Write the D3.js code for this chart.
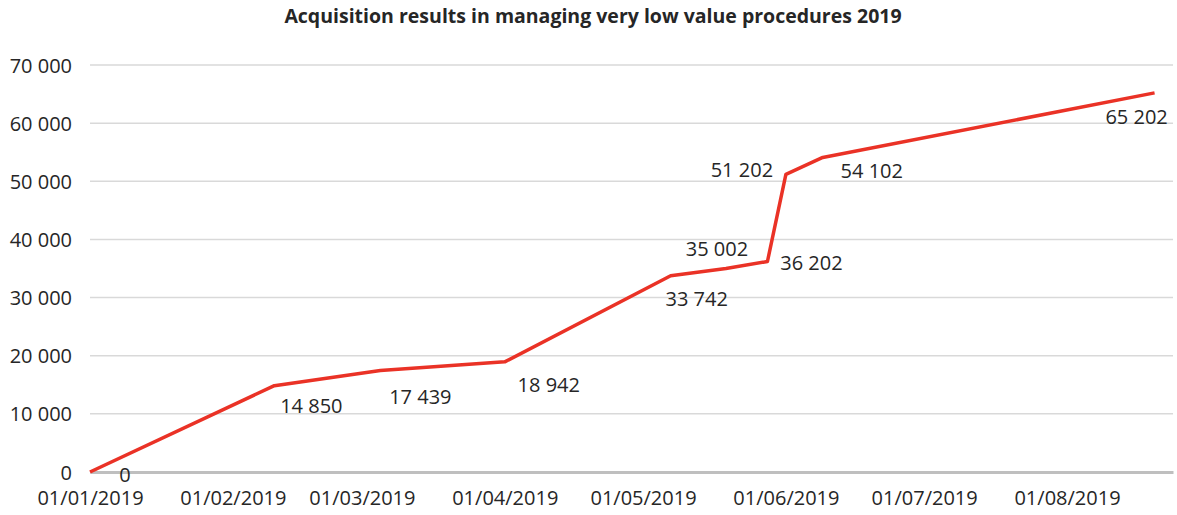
<!DOCTYPE html>
<html>
<head>
<meta charset="utf-8">
<script src="https://cdn.jsdelivr.net/npm/d3@7"></script>
<style>
  body { margin: 0; background: #fff; }
  text { font-family: "Open Sans", "Noto Sans", sans-serif; fill: #262626; }
</style>
</head>
<body>
<div id="chart"></div>
<script>
// data
const dates = ['2019-01-01', '2019-02-10', '2019-03-05', '2019-04-01', '2019-05-07',
  '2019-05-19', '2019-05-28', '2019-06-01', '2019-06-09', '2019-08-20'];
const values = [0, 14850, 17439, 18942, 33742, 35002, 36202, 51202, 54102, 65202];
const yTicks = [0, 10000, 20000, 30000, 40000, 50000, 60000, 70000];
const xTicks = ['2019-01-01', '2019-02-01', '2019-03-01', '2019-04-01',
  '2019-05-01', '2019-06-01', '2019-07-01', '2019-08-01'];

const parse = d3.timeParse('%Y-%m-%d');
const data = dates.map((d, i) => ({ date: parse(d), value: values[i] }));

// label nudges (px) relative to each point, as placed in the original
const labelOffset = [[35, 3], [37, 20], [40, 26], [44, 23], [26, 23],
  [-9, -19], [44, 1], [-44, -4], [49, 14], [-18, 24]];

const width = 1177;
const height = 515;
const margin = { top: 65, right: 4, bottom: 43, left: 90 };

const svg = d3.select('#chart')
  .append('svg')
  .attr('width', width)
  .attr('height', height);

const x = d3.scaleTime()
  .domain([parse('2019-01-01'), parse('2019-08-24')])
  .range([margin.left, width - margin.right]);

const y = d3.scaleLinear()
  .domain([0, 70000])
  .range([height - margin.bottom, margin.top]);

const fmt = v => d3.format(',')(v).replace(/,/g, ' ');

svg.append('text')
  .attr('x', 593)
  .attr('y', 23)
  .attr('text-anchor', 'middle')
  .attr('font-size', '19.5px')
  .attr('font-weight', 'bold')
  .text('Acquisition results in managing very low value procedures 2019');

// gridlines
svg.append('g')
  .selectAll('line')
  .data(yTicks.filter(t => t > 0))
  .join('line')
    .attr('x1', margin.left)
    .attr('x2', width - margin.right)
    .attr('y1', d => y(d))
    .attr('y2', d => y(d))
    .attr('stroke', '#d9d9d9')
    .attr('stroke-width', 1.5);

// y axis labels
const yAxis = svg.append('g')
  .attr('transform', `translate(${margin.left - 15},0)`)
  .call(d3.axisLeft(y).tickValues(yTicks).tickFormat(fmt).tickSize(0));
yAxis.select('.domain').remove();
yAxis.selectAll('text').attr('font-size', '20px').attr('dy', '0.35em');

// x axis
const xAxis = svg.append('g')
  .attr('transform', `translate(0,${y(0)})`)
  .call(d3.axisBottom(x).tickValues(xTicks.map(parse))
    .tickFormat(d3.timeFormat('%d/%m/%Y')).tickSize(0));
xAxis.select('.domain').attr('stroke', '#bfbfbf').attr('stroke-width', 3);
xAxis.selectAll('text').attr('font-size', '20px').attr('dy', '1.5em');

const line = d3.line()
  .x(d => x(d.date))
  .y(d => y(d.value));

svg.append('path')
  .datum(data)
  .attr('fill', 'none')
  .attr('stroke', '#ea3226')
  .attr('stroke-width', 3.5)
  .attr('stroke-linejoin', 'round')
  .attr('d', line);

svg.append('g')
  .selectAll('text')
  .data(data)
  .join('text')
    .attr('x', (d, i) => x(d.date) + labelOffset[i][0])
    .attr('y', (d, i) => y(d.value) + labelOffset[i][1])
    .attr('text-anchor', 'middle')
    .attr('dy', '0.35em')
    .attr('font-size', '20px')
    .text(d => fmt(d.value));
</script>
</body>
</html>
